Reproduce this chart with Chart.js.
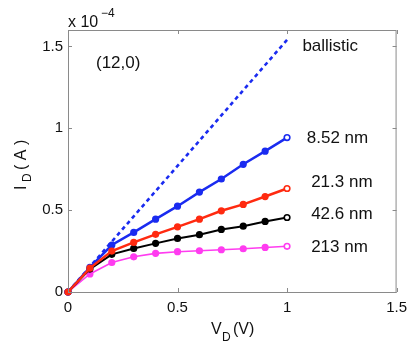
<!DOCTYPE html>
<html>
<head>
<meta charset="utf-8">
<script src="https://cdn.jsdelivr.net/npm/chart.js@4/dist/chart.umd.min.js"></script>
<style>
  html, body { margin: 0; padding: 0; background: #fff; }
  #wrap { width: 414px; height: 342px; }
</style>
</head>
<body>
<div id="wrap"><canvas id="ivChart" width="414" height="342"></canvas></div>
<script>
// drain voltage (V) and drain current (x 1e-4 A)
var vd = [0, 0.1, 0.2, 0.3, 0.4, 0.5, 0.6, 0.7, 0.8, 0.9, 1.0];
var ballisticV = [0, 1.0];
var ballisticI = [0, 1.54];
var id852 = [0, 0.150, 0.287, 0.364, 0.445, 0.524, 0.610, 0.690, 0.780, 0.860, 0.943];
var id213a = [0, 0.146, 0.250, 0.303, 0.352, 0.398, 0.445, 0.496, 0.535, 0.583, 0.632];
var id426 = [0, 0.140, 0.230, 0.266, 0.297, 0.327, 0.350, 0.382, 0.402, 0.431, 0.455];
var id213 = [0, 0.110, 0.180, 0.215, 0.236, 0.246, 0.252, 0.258, 0.264, 0.272, 0.279];
var xTicks = [0, 0.5, 1, 1.5];
var yTicks = [0, 0.5, 1, 1.5];

// curve labels: text, x and y in data units
var curveLabels = [
   ['ballistic', 1.07, 1.50],
   ['8.52 nm', 1.09, 0.94],
   ['21.3 nm', 1.11, 0.67],
   ['42.6 nm', 1.11, 0.475],
   ['213 nm', 1.11, 0.275]
];

var FONT = "'Liberation Sans', Arial, sans-serif";

function pts(xs, ys) {
   return xs.map(function (x, i) { return { x: x, y: ys[i] }; });
}
function lastOpen(color, n) {
   var arr = [];
   for (var i = 0; i < n; i++) arr.push(i === n - 1 ? '#ffffff' : color);
   return arr;
}
function series(data, color, width) {
   return {
      data: pts(vd, data),
      borderColor: color,
      borderWidth: width,
      pointRadius: 2.8,
      pointBorderWidth: 1.6,
      pointBorderColor: color,
      pointBackgroundColor: lastOpen(color, data.length),
      tension: 0,
      clip: false
   };
}

// frame, inner ticks and all the texts
const framePlugin = {
   id: 'frame',
   afterDraw(chart) {
      const c = chart.ctx;
      const a = chart.chartArea;
      const xs = chart.scales.x, ys = chart.scales.y;
      c.save();
      c.strokeStyle = '#8a8a8a';
      c.lineWidth = 1;
      c.strokeRect(a.left + 0.5, a.top + 0.5, a.right - a.left - 1, a.bottom - a.top);
      c.beginPath();
      xTicks.forEach(function (t) {
         const px = Math.round(xs.getPixelForValue(t)) + 0.5;
         c.moveTo(px, a.bottom); c.lineTo(px, a.bottom - 4);
         c.moveTo(px, a.top); c.lineTo(px, a.top + 4);
      });
      yTicks.forEach(function (t) {
         const py = Math.round(ys.getPixelForValue(t)) + 0.5;
         c.moveTo(a.left, py); c.lineTo(a.left + 4, py);
         c.moveTo(a.right, py); c.lineTo(a.right - 4, py);
      });
      c.stroke();

      c.fillStyle = '#111';
      c.textBaseline = 'alphabetic';
      c.textAlign = 'left';
      // exponent
      c.font = '16px ' + FONT;
      c.fillText('x 10', a.left, 27);
      c.font = '12px ' + FONT;
      c.fillText('\u22124', 101, 17);
      // chirality
      c.font = '17px ' + FONT;
      c.fillText('(12,0)', 96, 68);
      // curve labels
      curveLabels.forEach(function (l) {
         c.textBaseline = 'middle';
         c.fillText(l[0], xs.getPixelForValue(l[1]), ys.getPixelForValue(l[2]));
      });
      // x title
      c.textBaseline = 'alphabetic';
      c.font = '16px ' + FONT;
      c.fillText('V', 211, 334);
      c.font = '12px ' + FONT;
      c.fillText('D', 222, 341);
      c.font = '16px ' + FONT;
      c.fillText('(V)', 233, 334);
      // y title
      c.translate(26, 190);
      c.rotate(-Math.PI / 2);
      c.font = '16px ' + FONT;
      c.fillText('I', 0, 0);
      c.font = '12px ' + FONT;
      c.fillText('D', 8, 5);
      c.font = '16px ' + FONT;
      c.fillText('( A )', 20, 0);
      c.restore();
   }
};

new Chart(document.getElementById('ivChart'), {
   type: 'line',
   data: {
      datasets: [
         series(id213a, '#ff2a10', 2.5),
         series(id852, '#1a2bf0', 2.5),
         series(id426, '#000000', 2),
         series(id213, '#ff3cf0', 1.6),
         {
            data: pts(ballisticV, ballisticI),
            borderColor: '#1a2bf0',
            borderWidth: 2.6,
            borderDash: [4, 3.5],
            pointRadius: 0,
            clip: false
         }
      ]
   },
   options: {
      responsive: false,
      animation: false,
      devicePixelRatio: 1,
      layout: { padding: { top: 30, right: 15, left: 0, bottom: 0 } },
      plugins: { legend: { display: false }, tooltip: { enabled: false } },
      scales: {
         x: {
            type: 'linear',
            min: 0,
            max: 1.5,
            grid: { display: false, drawTicks: false },
            border: { display: false },
            afterBuildTicks: function (s) { s.ticks = xTicks.map(function (v) { return { value: v }; }); },
            afterFit: function (s) { s.height = 50; },
            ticks: {
               padding: 7,
               color: '#111',
               font: { family: FONT, size: 15 },
               maxRotation: 0,
               callback: function (v) { return String(v); }
            }
         },
         y: {
            type: 'linear',
            min: 0,
            max: 1.6,
            grid: { display: false, drawTicks: false },
            border: { display: false },
            afterBuildTicks: function (s) { s.ticks = yTicks.map(function (v) { return { value: v }; }); },
            afterFit: function (s) { s.width = 68; },
            ticks: {
               padding: 5,
               color: '#111',
               font: { family: FONT, size: 15 },
               callback: function (v) { return String(v); }
            }
         }
      }
   },
   plugins: [framePlugin]
});
</script>
</body>
</html>
